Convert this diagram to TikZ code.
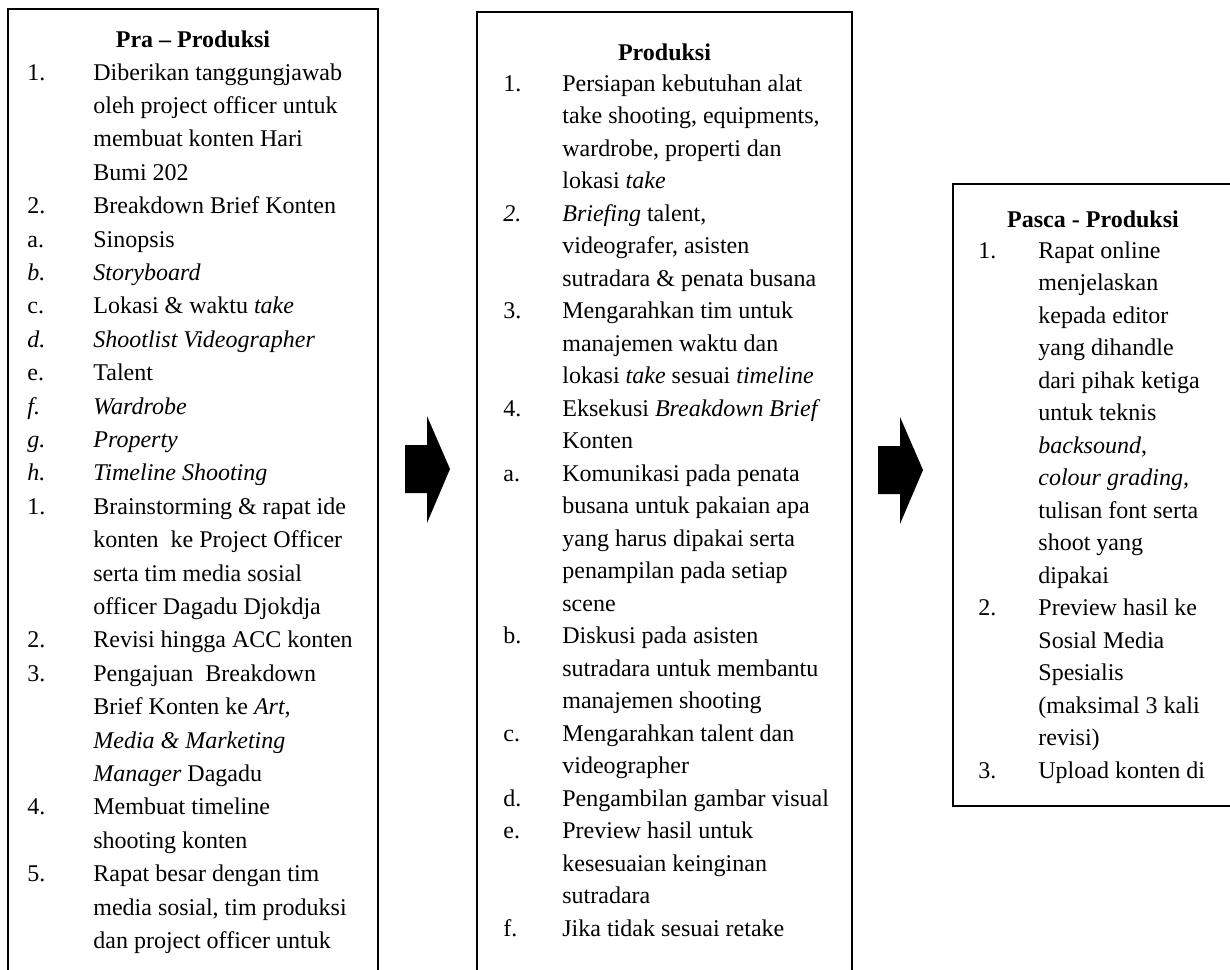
\documentclass[tikz,border=0pt]{standalone}
\usepackage{fontspec}
\setmainfont{Liberation Serif}
\tikzset{
	% frames of the three stages, their titles and item lists
	stage box/.style={draw,line width=1.3pt},
	stage head/.style={font=\fontsize{12}{16}\selectfont\bfseries,anchor=base,inner sep=0pt},
	stage list/.style={anchor=base west,inner sep=0pt},
	% solid block arrow between two stages (origin at the head base)
	block arrow/.pic={\fill (-22,-24) -- (0,-24) -- (0,-53) -- (23,0) -- (0,54) -- (0,24) -- (-22,24) -- cycle;}
}

\begin{document}
\begin{tikzpicture}[x=0.5pt,y=-0.5pt]
	\useasboundingbox (0,0) rectangle (1230,969);
	\clip (0,0) rectangle (1230,969);
	% frames
	\draw[stage box] (8,9) rectangle (378,1010);
	\draw[stage box] (477,12) rectangle (852,1010);
	\draw[stage box] (953,184) rectangle (1240,806);
	% arrows
	\path (427,469) pic {block arrow};
	\path (900,470) pic {block arrow};

	% Pra - Produksi
	\node[stage head] (pra-head) at (193,47) {Pra -- Produksi};
	\node[stage list,font=\fontsize{12}{16.7}\selectfont] (pra-list) at (27,80) {%
		\begin{tabular}[t]{@{}p{33pt}@{}l@{}}
			1. & Diberikan tanggungjawab\\
			   & oleh project officer untuk\\
			   & membuat konten Hari\\
			   & Bumi 202\\
			2. & Breakdown Brief Konten\\
			a. & Sinopsis\\
			\textit{b.} & \textit{Storyboard}\\
			c. & Lokasi \& waktu \textit{take}\\
			\textit{d.} & \textit{Shootlist Videographer}\\
			e. & Talent\\
			\textit{f.} & \textit{Wardrobe}\\
			\textit{g.} & \textit{Property}\\
			\textit{h.} & \textit{Timeline Shooting}\\
			1. & Brainstorming \& rapat ide\\
			   & konten\ \ ke Project Officer\\
			   & serta tim media sosial\\
			   & officer Dagadu Djokdja\\
			2. & Revisi hingga ACC konten\\
			3. & Pengajuan\ \ Breakdown\\
			   & Brief Konten ke \textit{Art,}\\
			   & \textit{Media \& Marketing}\\
			   & \textit{Manager} Dagadu\\
			4. & Membuat timeline\\
			   & shooting konten\\
			5. & Rapat besar dengan tim\\
			   & media sosial, tim produksi\\
			   & dan project officer untuk
		\end{tabular}};

	% Produksi
	\node[stage head] (prod-head) at (664.5,60) {Produksi};
	\node[stage list,font=\fontsize{12}{16.25}\selectfont] (prod-list) at (503,91) {%
		\begin{tabular}[t]{@{}p{29.5pt}@{}l@{}}
			1. & Persiapan kebutuhan alat\\
			   & take shooting, equipments,\\
			   & wardrobe, properti dan\\
			   & lokasi \textit{take}\\
			\textit{2.} & \textit{Briefing} talent,\\
			   & videografer, asisten\\
			   & sutradara \& penata busana\\
			3. & Mengarahkan tim untuk\\
			   & manajemen waktu dan\\
			   & lokasi \textit{take} sesuai \textit{timeline}\\
			4. & Eksekusi \textit{Breakdown Brief}\\
			   & Konten\\
			a. & Komunikasi pada penata\\
			   & busana untuk pakaian apa\\
			   & yang harus dipakai serta\\
			   & penampilan pada setiap\\
			   & scene\\
			b. & Diskusi pada asisten\\
			   & sutradara untuk membantu\\
			   & manajemen shooting\\
			c. & Mengarahkan talent dan\\
			   & videographer\\
			d. & Pengambilan gambar visual\\
			e. & Preview hasil untuk\\
			   & kesesuaian keinginan\\
			   & sutradara\\
			f. & Jika tidak sesuai retake
		\end{tabular}};

	% Pasca - Produksi
	\node[stage head] (pasca-head) at (1093,227) {Pasca - Produksi};
	\node[stage list,font=\fontsize{12}{16.25}\selectfont] (pasca-list) at (978,258) {%
		\begin{tabular}[t]{@{}p{30pt}@{}l@{}}
			1. & Rapat online\\
			   & menjelaskan\\
			   & kepada editor\\
			   & yang dihandle\\
			   & dari pihak ketiga\\
			   & untuk teknis\\
			   & \textit{backsound},\\
			   & \textit{colour grading,}\\
			   & tulisan font serta\\
			   & shoot yang\\
			   & dipakai\\
			2. & Preview hasil ke\\
			   & Sosial Media\\
			   & Spesialis\\
			   & (maksimal 3 kali\\
			   & revisi)\\
			3. & Upload konten di
		\end{tabular}};
\end{tikzpicture}
\end{document}
